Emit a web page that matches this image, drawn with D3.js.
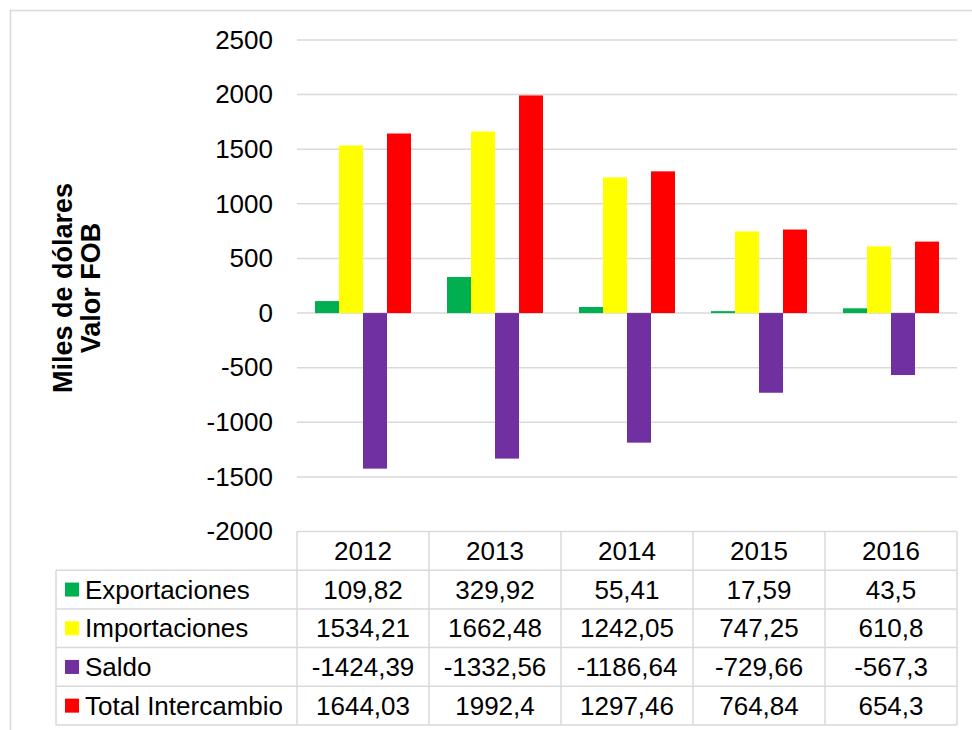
<!DOCTYPE html>
<html>
<head>
<meta charset="utf-8">
<script src="https://cdn.jsdelivr.net/npm/d3@7"></script>
<style>
  body { margin: 0; background: #fff; }
  text { font-family: "Liberation Sans", Arial, sans-serif; }
</style>
</head>
<body>
<svg id="chart"></svg>
<script>
// data
const years = ["2012", "2013", "2014", "2015", "2016"];
const seriesNames = ["Exportaciones", "Importaciones", "Saldo", "Total Intercambio"];
const exportaciones = [109.82, 329.92, 55.41, 17.59, 43.5];
const importaciones = [1534.21, 1662.48, 1242.05, 747.25, 610.8];
const saldo = [-1424.39, -1332.56, -1186.64, -729.66, -567.3];
const totalIntercambio = [1644.03, 1992.4, 1297.46, 764.84, 654.3];
const colors = ["#00b050", "#ffff00", "#7030a0", "#ff0000"];
const yTicks = [-2000, -1500, -1000, -500, 0, 500, 1000, 1500, 2000, 2500];

const allSeries = [exportaciones, importaciones, saldo, totalIntercambio];

const width = 972, height = 730;
const plot = { left: 297, right: 957, top: 40, bottom: 531.5 };
const rowH = 38.7;
const legendLeft = 56;
const fs = 26;

const fmt = v => String(v).replace(".", ",");

const svg = d3.select("#chart").attr("width", width).attr("height", height);

// outer chart border
svg.append("rect")
    .attr("x", 10.5).attr("y", 10.5)
    .attr("width", 975).attr("height", 740)
    .attr("fill", "none").attr("stroke", "#d9d9d9").attr("stroke-width", 1.5);

const x = d3.scaleBand().domain(years).range([plot.left, plot.right]);
// bars touch each other, 18px gap on each side of a group
const xs = d3.scaleBand().domain(seriesNames).range([0, x.bandwidth()])
    .paddingInner(0).paddingOuter(18 / 24);

const y = d3.scaleLinear().domain([-2000, 2500]).range([plot.bottom, plot.top]);

// gridlines
svg.append("g")
    .selectAll("line")
    .data(yTicks.filter(t => t !== -2000))
    .join("line")
    .attr("x1", plot.left).attr("x2", plot.right)
    .attr("y1", d => y(d)).attr("y2", d => y(d))
    .attr("stroke", "#d9d9d9").attr("stroke-width", 1.5);

// y axis labels
const yAxis = svg.append("g")
    .attr("transform", `translate(${plot.left - 24},0)`)
    .call(d3.axisLeft(y).tickValues(yTicks).tickSize(0).tickPadding(0).tickFormat(d => d));
yAxis.select(".domain").remove();
yAxis.selectAll("text")
    .attr("font-size", fs).attr("fill", "#000")
    .attr("font-family", "Liberation Sans, Arial, sans-serif");

// bars
const groups = svg.append("g")
    .selectAll("g")
    .data(years)
    .join("g")
    .attr("transform", d => `translate(${x(d)},0)`);

groups.selectAll("rect")
    .data((d, i) => seriesNames.map((s, k) => ({ s, k, v: allSeries[k][i] })))
    .join("rect")
    .attr("x", d => xs(d.s))
    .attr("width", xs.bandwidth())
    .attr("y", d => y(Math.max(0, d.v)))
    .attr("height", d => Math.abs(y(d.v) - y(0)))
    .attr("fill", d => colors[d.k]);

// y axis title
const title = svg.append("text")
    .attr("transform", "translate(71.5,288) rotate(-90)")
    .attr("text-anchor", "middle")
    .attr("font-size", 27).attr("font-weight", "bold");
title.append("tspan").attr("x", 0).attr("dy", 0).text("Miles de dólares");
title.append("tspan").attr("x", 0).attr("dy", 28).text("Valor FOB");

// data table
const table = svg.append("g");
const lineStyle = sel => sel.attr("stroke", "#d9d9d9").attr("stroke-width", 1.5);
const tableTop = plot.bottom;
const tableBottom = tableTop + rowH * 5;

// horizontal lines
table.append("line").call(lineStyle)
    .attr("x1", plot.left).attr("x2", plot.right)
    .attr("y1", tableTop).attr("y2", tableTop);
d3.range(1, 6).forEach(r => {
    table.append("line").call(lineStyle)
        .attr("x1", legendLeft).attr("x2", plot.right)
        .attr("y1", tableTop + r * rowH).attr("y2", tableTop + r * rowH);
});
// vertical lines
years.forEach(yr => {
    table.append("line").call(lineStyle)
        .attr("x1", x(yr)).attr("x2", x(yr))
        .attr("y1", tableTop).attr("y2", tableBottom);
});
table.append("line").call(lineStyle)
    .attr("x1", plot.right).attr("x2", plot.right)
    .attr("y1", tableTop).attr("y2", tableBottom);
table.append("line").call(lineStyle)
    .attr("x1", legendLeft).attr("x2", legendLeft)
    .attr("y1", tableTop + rowH).attr("y2", tableBottom);

// header
table.selectAll("text.hdr")
    .data(years)
    .join("text")
    .attr("class", "hdr")
    .attr("x", d => x(d) + x.bandwidth() / 2)
    .attr("y", tableTop + rowH / 2)
    .attr("dy", "0.35em")
    .attr("text-anchor", "middle")
    .attr("font-size", fs)
    .text(d => d);

// rows
seriesNames.forEach((name, k) => {
    const cy = tableTop + rowH * (k + 1.5);
    table.append("rect")
        .attr("x", 65).attr("y", cy - 7)
        .attr("width", 14).attr("height", 14)
        .attr("fill", colors[k]);
    table.append("text")
        .attr("x", 85).attr("y", cy).attr("dy", "0.35em")
        .attr("font-size", fs)
        .text(name);
    table.selectAll(null)
        .data(allSeries[k])
        .join("text")
        .attr("x", (d, i) => x(years[i]) + x.bandwidth() / 2)
        .attr("y", cy).attr("dy", "0.35em")
        .attr("text-anchor", "middle")
        .attr("font-size", fs)
        .text(d => fmt(d));
});
</script>
</body>
</html>
